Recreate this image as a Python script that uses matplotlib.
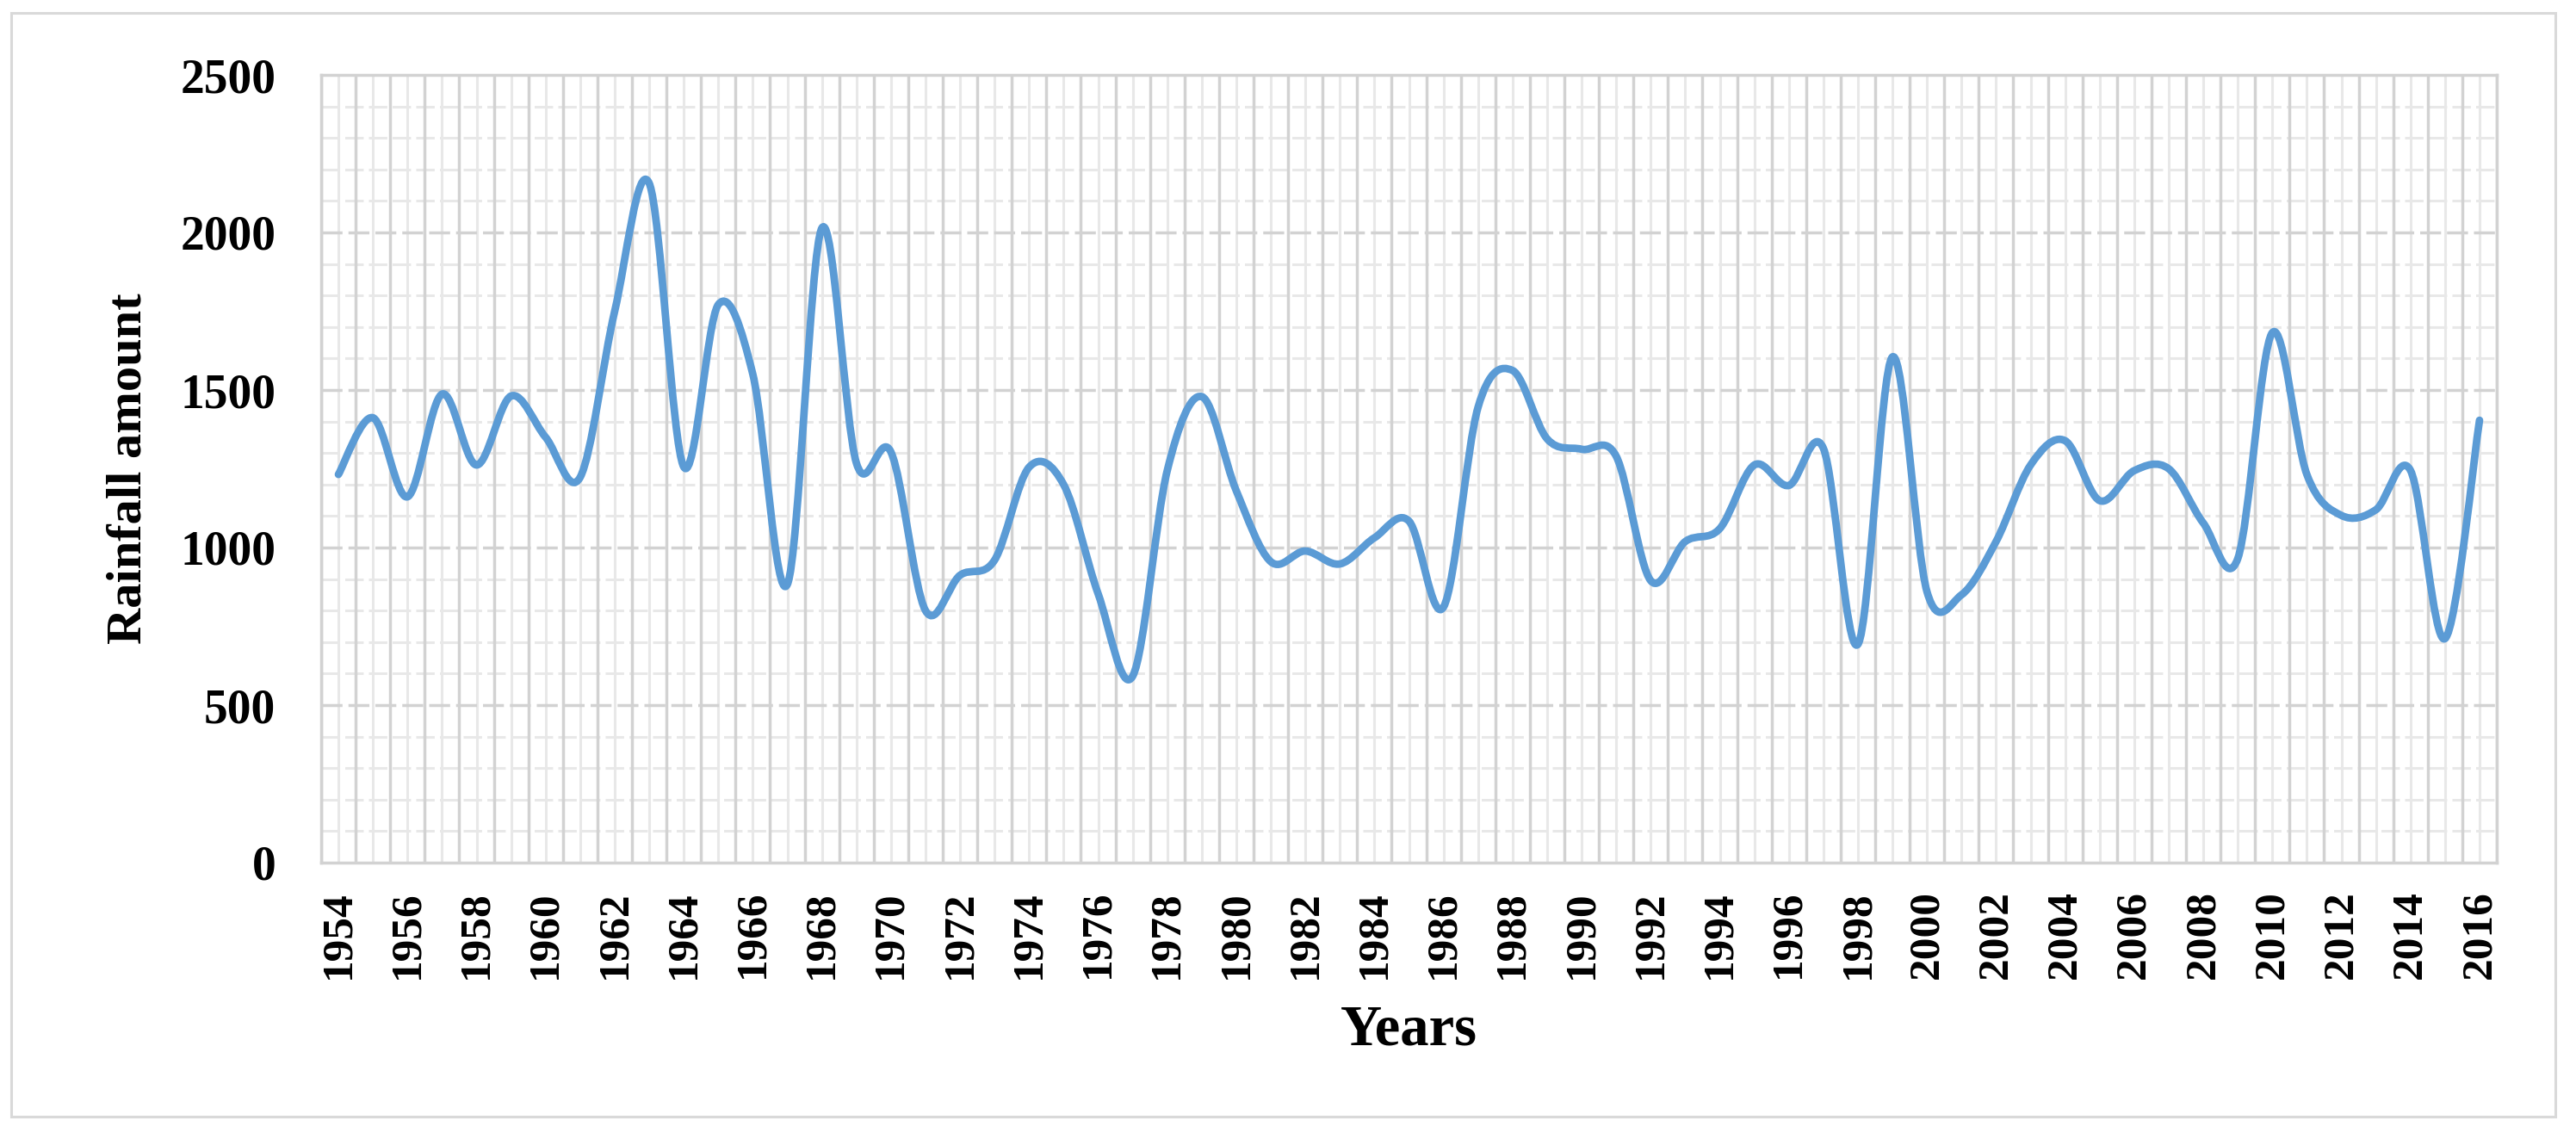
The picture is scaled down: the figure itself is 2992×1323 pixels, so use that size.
import numpy as np
import matplotlib
matplotlib.use('Agg')
import matplotlib.pyplot as plt
from matplotlib.path import Path
from matplotlib.patches import PathPatch, Rectangle

# ---------------- data ----------------
years = list(range(1954, 2017))
rainfall = [1232, 1412, 1161, 1487, 1262, 1481, 1350, 1223, 1750, 2156,
            1256, 1771, 1550, 883, 2014, 1268, 1303, 800, 912, 960,
            1255, 1200, 853, 592, 1244, 1479, 1180, 955, 989, 948,
            1031, 1084, 811, 1445, 1562, 1345, 1312, 1290, 895, 1019,
            1060, 1262, 1197, 1315, 693, 1605, 860, 850, 1019, 1262,
            1339, 1149, 1244, 1250, 1078, 965, 1682, 1232, 1102, 1120,
            1245, 711, 1404]
xtick_years = list(range(1954, 2017, 2))
yticks = [0, 500, 1000, 1500, 2000, 2500]
xlabel = "Years"
ylabel = "Rainfall amount"

# ---------------- figure ----------------
W, H = 2992, 1323
fig = plt.figure(figsize=(W / 100, H / 100), dpi=100)
fig.patch.set_facecolor('white')

# outer chart border
fig.patches.append(Rectangle((13 / W, 1 - 1297 / H), 2955 / W, 1282 / H,
                             transform=fig.transFigure, fill=False,
                             edgecolor='#d9d9d9', linewidth=2.2, zorder=0))

left, right, top, bottom = 373, 2900, 87, 1002
ax = fig.add_axes([left / W, 1 - bottom / H, (right - left) / W, (bottom - top) / H])

ax.set_xlim(years[0] - 0.5, years[-1] + 0.5)
ax.set_ylim(0, 2500)

# grid lines
grid_major = '#d2d2d2'
grid_minor = '#e8e8e8'
for b in np.arange(years[0] - 0.5, years[-1] + 1.0, 1.0):
    ax.axvline(b, color=grid_major, lw=2.5, zorder=1)
for yv in years:
    ax.axvline(yv, color=grid_minor, lw=2.2, zorder=0.5)
for v in range(100, 2500, 100):
    if v % 500 == 0:
        ax.axhline(v, color=grid_major, lw=2.5, dashes=(7, 2), zorder=1.2)
    else:
        ax.axhline(v, color=grid_minor, lw=2.2, dashes=(7, 2), zorder=0.6)

# smoothed line (Excel-style Catmull-Rom Bezier)
xs = np.array(years, dtype=float)
ys = np.array(rainfall, dtype=float)
pts = np.column_stack([xs, ys])
n = len(pts)
verts = [tuple(pts[0])]
codes = [Path.MOVETO]
for i in range(n - 1):
    p_prev = pts[i - 1] if i > 0 else pts[i]
    p0 = pts[i]
    p1 = pts[i + 1]
    p_next = pts[i + 2] if i + 2 < n else pts[i + 1]
    c1 = p0 + (p1 - p_prev) / 6.0
    c2 = p1 - (p_next - p0) / 6.0
    verts += [tuple(c1), tuple(c2), tuple(p1)]
    codes += [Path.CURVE4, Path.CURVE4, Path.CURVE4]
path = Path(verts, codes)
ax.add_patch(PathPatch(path, fill=False, edgecolor='#5b9bd5', lw=6.3,
                       capstyle='round', joinstyle='round', zorder=3))

# spines
for s in ax.spines.values():
    s.set_color('#d2d2d2')
    s.set_linewidth(2.5)
    s.set_zorder(2)

# ticks
font = dict(family='Liberation Serif', weight='bold')
ax.set_xticks(xtick_years)
ax.set_xticklabels([str(y) for y in xtick_years], rotation=90, fontsize=37, **font)
ax.set_yticks(yticks)
ax.set_yticklabels([str(v) for v in yticks], fontsize=40, **font)
ax.tick_params(axis='both', length=0)
ax.tick_params(axis='x', pad=23)
ax.tick_params(axis='y', pad=38)

ax.set_xlabel(xlabel, fontsize=48, va='baseline', **font)
ax.xaxis.set_label_coords(0.5, (bottom - 1213) / (bottom - top))
ax.set_ylabel(ylabel, fontsize=42, va='center', **font)
ax.yaxis.set_label_coords((149 - left) / (right - left), 0.5)

fig.savefig('out.png', dpi=100, facecolor='white')
